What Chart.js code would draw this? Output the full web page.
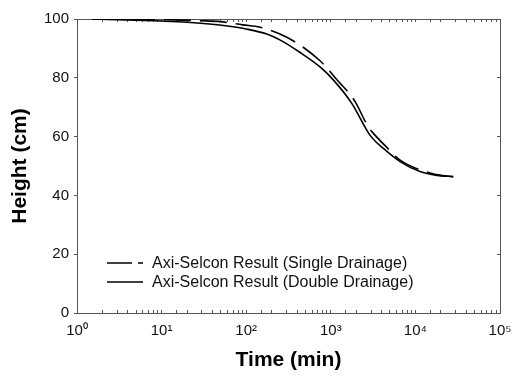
<!DOCTYPE html>
<html>
<head>
<meta charset="utf-8">
<script src="https://cdn.jsdelivr.net/npm/chart.js@4/dist/chart.umd.min.js"></script>
<style>
  html, body { margin: 0; padding: 0; background: #fff; }
  #wrap { width: 513px; height: 376px; }
</style>
</head>
<body>
<div id="wrap"><canvas id="settlementChart"></canvas></div>
<script>
// values
const singleTime = [1.5, 10, 30, 49, 91, 146, 302, 745, 1290, 1590, 1940, 2760, 3330, 4500, 6600, 14900, 20000, 28000];
const singleHeight = [100, 99.8, 99.4, 99.1, 98.0, 97.2, 93.8, 85.8, 78.1, 75.3, 71.9, 63.4, 60.5, 56.6, 52.0, 47.6, 46.8, 46.4];

const doubleTime = [1.5, 5, 10, 20, 34, 60, 100, 175, 250, 434, 745, 1070, 1770, 2900, 4500, 6600, 11300, 18000, 28000];
const doubleHeight = [100, 99.6, 99.3, 98.9, 98.4, 97.6, 96.6, 94.9, 92.9, 88.6, 83.7, 79.3, 71.3, 60.5, 55.2, 51.5, 48.1, 46.8, 46.4];

const seriesNames = ['Axi-Selcon Result (Single Drainage)', 'Axi-Selcon Result (Double Drainage)'];
const heightTicks = [0, 20, 40, 60, 80, 100];
const timeMin = 1, timeMax = 100000;

const fontFamily = "'Liberation Sans', Arial, sans-serif";
const axisGrey = '#555';
const sup = ['\u2070', '\u00B9', '\u00B2', '\u00B3', '\u2074', '\u2075'];

function toPoints(xs, ys) {
    return xs.map((x, i) => ({ x: x, y: ys[i] }));
}

function flatFit(w, h) {
    return (scale) => {
        if (w !== null) scale.width = w;
        if (h !== null) scale.height = h;
        scale.paddingLeft = 0;
        scale.paddingRight = 0;
        scale.paddingTop = 0;
        scale.paddingBottom = 0;
    };
}

// legend drawn inside the plot, lower left
const innerLegend = {
    id: 'innerLegend',
    afterDraw(chart) {
        const { ctx, chartArea } = chart;
        const x0 = chartArea.left + 30;
        const y0 = chartArea.bottom - 50;
        const dashes = [[25, 6, 5, 100], []];
        ctx.save();
        ctx.font = '16px ' + fontFamily;
        ctx.textBaseline = 'middle';
        ctx.fillStyle = '#111';
        seriesNames.forEach((name, i) => {
            const y = y0 + i * 19;
            ctx.strokeStyle = '#000';
            ctx.lineWidth = 1.6;
            ctx.setLineDash(dashes[i]);
            ctx.beginPath();
            ctx.moveTo(x0, y);
            ctx.lineTo(x0 + 36, y);
            ctx.stroke();
            ctx.setLineDash([]);
            ctx.fillText(name, x0 + 45, y + 1);
        });
        ctx.restore();
    }
};

new Chart(document.getElementById('settlementChart'), {
    type: 'line',
    data: {
        datasets: [
            {
                label: seriesNames[0],
                data: toPoints(singleTime, singleHeight),
                borderColor: '#000',
                borderWidth: 1.6,
                borderDash: [27, 9],
                pointRadius: 0,
                cubicInterpolationMode: 'monotone',
                fill: false
            },
            {
                label: seriesNames[1],
                data: toPoints(doubleTime, doubleHeight),
                borderColor: '#000',
                borderWidth: 1.6,
                pointRadius: 0,
                cubicInterpolationMode: 'monotone',
                fill: false
            }
        ]
    },
    options: {
        responsive: true,
        maintainAspectRatio: false,
        animation: false,
        layout: { padding: { top: 19, right: 13, left: 0, bottom: 0 } },
        plugins: {
            legend: { display: false },
            tooltip: { enabled: false }
        },
        scales: {
            x: {
                type: 'logarithmic',
                position: 'bottom',
                min: timeMin,
                max: timeMax,
                afterFit: flatFit(null, 63),
                border: { display: true, color: axisGrey, width: 1 },
                grid: { drawOnChartArea: false, drawTicks: true, tickLength: -3, tickColor: axisGrey },
                ticks: {
                    autoSkip: false,
                    maxRotation: 0,
                    padding: 12,
                    color: '#111',
                    font: { family: fontFamily, size: 15 },
                    callback: (v) => {
                        const e = Math.round(Math.log10(v));
                        return Math.abs(Math.log10(v) - e) < 1e-9 ? '10' + sup[e] : '';
                    }
                },
                title: {
                    display: true,
                    text: 'Time (min)',
                    color: '#000',
                    padding: { top: 0, bottom: 3 },
                    font: { family: fontFamily, size: 21, weight: 'bold' }
                }
            },
            xTop: {
                type: 'logarithmic',
                position: 'top',
                min: timeMin,
                max: timeMax,
                afterFit: flatFit(null, 0),
                border: { display: true, color: axisGrey, width: 1 },
                grid: { drawOnChartArea: false, drawTicks: true, tickLength: -3, tickColor: axisGrey },
                ticks: { display: false, autoSkip: false }
            },
            y: {
                type: 'linear',
                position: 'left',
                min: 0,
                max: 100,
                afterFit: flatFit(77, null),
                afterBuildTicks: (scale) => { scale.ticks = heightTicks.map(v => ({ value: v })); },
                border: { display: true, color: axisGrey, width: 1 },
                grid: { drawOnChartArea: false, drawTicks: true, tickLength: 3, tickColor: axisGrey },
                ticks: {
                    padding: 5,
                    color: '#111',
                    font: { family: fontFamily, size: 15 }
                },
                title: {
                    display: true,
                    text: 'Height (cm)',
                    color: '#000',
                    padding: { top: 8, bottom: 0 },
                    font: { family: fontFamily, size: 21, weight: 'bold' }
                }
            },
            yRight: {
                type: 'linear',
                position: 'right',
                min: 0,
                max: 100,
                afterFit: flatFit(0, null),
                afterBuildTicks: (scale) => { scale.ticks = heightTicks.map(v => ({ value: v })); },
                border: { display: true, color: axisGrey, width: 1 },
                grid: { drawOnChartArea: false, drawTicks: true, tickLength: -3, tickColor: axisGrey },
                ticks: { display: false }
            }
        }
    },
    plugins: [innerLegend]
});
</script>
</body>
</html>
